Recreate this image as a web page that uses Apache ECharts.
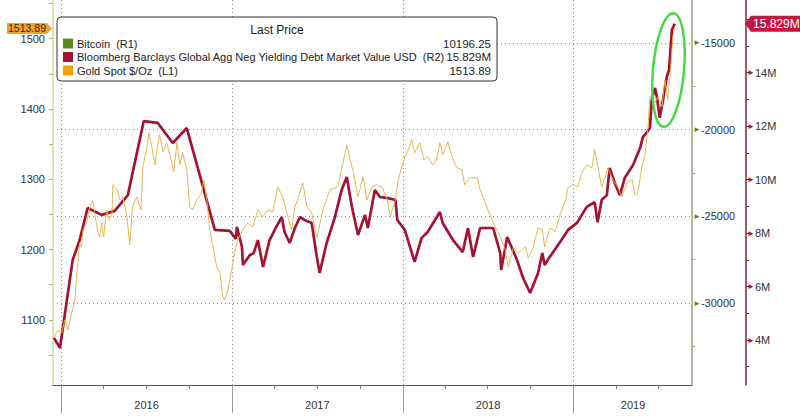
<!DOCTYPE html>
<html><head><meta charset="utf-8">
<script src="https://cdn.jsdelivr.net/npm/echarts@6/dist/echarts.min.js"></script>
<style>html,body{margin:0;padding:0;background:#fff}#c{width:800px;height:417px}</style>
</head><body><div id="c"></div>
<script>
// ---------- DATA ----------
const goldDates = ['2015-12-17','2015-12-26','2016-01-03','2016-01-09','2016-01-16','2016-01-24','2016-01-31','2016-02-04','2016-02-10','2016-02-14','2016-02-17','2016-02-25','2016-03-03','2016-03-09','2016-03-13','2016-03-20','2016-03-24','2016-03-28','2016-04-01','2016-04-08','2016-04-12','2016-04-19','2016-04-21','2016-04-30','2016-05-06','2016-05-12','2016-05-21','2016-05-27','2016-06-02','2016-06-11','2016-06-20','2016-06-24','2016-07-03','2016-07-07','2016-07-13','2016-07-20','2016-07-24','2016-07-30','2016-08-06','2016-08-14','2016-08-21','2016-08-29','2016-09-05','2016-09-11','2016-09-17','2016-09-26','2016-10-02','2016-10-09','2016-10-17','2016-10-28','2016-11-01','2016-11-08','2016-11-14','2016-11-21','2016-11-29','2016-12-06','2016-12-12','2016-12-16','2016-12-23','2016-12-31','2017-01-06','2017-01-13','2017-01-24','2017-02-03','2017-02-14','2017-02-25','2017-03-08','2017-03-18','2017-03-29','2017-04-08','2017-04-19','2017-04-28','2017-05-08','2017-05-15','2017-05-21','2017-06-01','2017-06-10','2017-06-20','2017-07-01','2017-07-14','2017-07-29','2017-08-15','2017-08-26','2017-09-03','2017-09-10','2017-09-16','2017-09-27','2017-10-08','2017-10-16','2017-10-27','2017-11-07','2017-11-18','2017-11-29','2017-12-05','2017-12-16','2017-12-22','2017-12-31','2018-01-05','2018-01-11','2018-01-20','2018-01-26','2018-02-06','2018-02-15','2018-02-23','2018-03-06','2018-03-14','2018-03-21','2018-03-27','2018-04-07','2018-04-16','2018-04-26','2018-05-07','2018-05-13','2018-05-24','2018-06-09','2018-06-15','2018-06-21','2018-07-02','2018-07-13','2018-07-28','2018-08-08','2018-08-14','2018-08-25','2018-09-05','2018-09-20','2018-09-26','2018-10-07','2018-10-17','2018-10-26','2018-10-31','2018-11-11','2018-11-22','2018-12-03','2018-12-15','2018-12-20','2018-12-31','2019-01-10','2019-01-18','2019-01-29','2019-02-09','2019-02-15','2019-02-21','2019-03-02','2019-03-09','2019-03-15','2019-03-26','2019-04-06','2019-04-14','2019-04-25','2019-05-06','2019-05-12','2019-05-18','2019-05-27','2019-06-02','2019-06-09','2019-06-13','2019-06-24','2019-06-30','2019-07-09','2019-07-15','2019-07-21','2019-07-26','2019-08-01','2019-08-05'];
const goldValues = [1075.6,1085.6,1081.3,1099.9,1085.6,1109.8,1128.3,1166.8,1209.5,1203.8,1228.1,1238.0,1260.8,1270.8,1252.3,1223.8,1218.1,1238.0,1218.1,1256.6,1242.3,1249.4,1292.2,1285.0,1270.8,1275.1,1246.6,1206.7,1260.8,1275.1,1256.6,1317.8,1346.3,1366.2,1346.3,1320.7,1342.0,1363.4,1339.2,1352.0,1334.9,1310.7,1352.0,1320.7,1337.7,1313.5,1260.8,1256.6,1270.8,1280.8,1299.3,1270.8,1228.1,1203.8,1175.4,1166.8,1132.6,1128.3,1142.6,1171.1,1195.3,1213.8,1228.1,1238.0,1232.3,1256.6,1246.6,1256.6,1253.7,1289.3,1275.1,1252.3,1228.1,1260.8,1270.8,1295.0,1260.8,1252.3,1216.7,1256.6,1285.0,1289.3,1323.5,1349.1,1327.8,1313.5,1275.1,1303.6,1270.8,1289.3,1292.2,1287.9,1270.8,1246.6,1270.8,1299.3,1320.7,1332.1,1339.2,1356.3,1337.7,1352.0,1327.8,1332.1,1320.7,1327.8,1352.0,1334.9,1353.4,1332.1,1316.4,1313.5,1292.2,1302.1,1302.1,1285.0,1275.1,1256.6,1238.0,1218.1,1199.6,1175.4,1202.4,1195.3,1203.8,1188.2,1203.8,1230.9,1228.1,1203.8,1230.9,1225.2,1249.4,1270.8,1287.9,1292.2,1289.3,1309.3,1320.7,1316.4,1342.0,1320.7,1289.3,1302.1,1316.4,1299.3,1287.9,1275.1,1295.0,1299.3,1277.9,1280.8,1317.8,1332.1,1375.0,1417.5,1409.0,1417.5,1403.3,1441.7,1413.2,1446.0,1503.0,1513.89];

const debtDates = ['2015-12-17','2015-12-30','2016-01-26','2016-02-10','2016-02-27','2016-03-28','2016-04-25','2016-05-23','2016-06-26','2016-07-26','2016-08-27','2016-09-26','2016-11-25','2016-12-27','2017-01-09','2017-01-11','2017-01-22','2017-01-24','2017-02-08','2017-02-16','2017-02-25','2017-03-08','2017-03-22','2017-04-04','2017-04-17','2017-04-23','2017-05-04','2017-05-15','2017-05-26','2017-06-05','2017-06-20','2017-07-01','2017-07-07','2017-07-22','2017-08-08','2017-08-23','2017-09-03','2017-09-14','2017-09-27','2017-10-12','2017-10-18','2017-11-02','2017-11-13','2017-11-30','2017-12-16','2017-12-20','2018-01-05','2018-01-26','2018-02-10','2018-02-23','2018-03-21','2018-03-27','2018-04-18','2018-05-09','2018-05-20','2018-05-31','2018-06-15','2018-07-13','2018-07-28','2018-07-30','2018-08-12','2018-09-02','2018-09-15','2018-09-30','2018-10-17','2018-10-26','2018-10-31','2018-11-11','2018-12-03','2018-12-20','2019-01-08','2019-01-29','2019-02-15','2019-02-21','2019-03-02','2019-03-13','2019-03-19','2019-03-30','2019-04-10','2019-04-20','2019-05-08','2019-05-23','2019-05-29','2019-06-07','2019-06-13','2019-06-17','2019-06-24','2019-06-28','2019-07-04','2019-07-11','2019-07-19','2019-07-24','2019-07-30','2019-08-02','2019-08-05'];
const debtValues = [4.08,3.70,6.99,7.74,8.94,8.68,8.83,9.42,12.19,12.12,11.37,11.93,8.12,8.08,7.78,8.23,7.48,6.81,7.18,7.25,7.74,6.73,7.74,8.19,8.60,8.04,7.63,8.19,8.60,8.49,8.38,7.11,6.51,7.63,8.56,9.61,10.10,8.98,7.93,8.68,8.19,9.61,9.35,9.31,9.24,8.49,8.12,6.92,7.82,8.04,8.79,8.38,7.74,7.29,8.19,7.11,8.19,8.19,7.25,6.62,7.85,6.99,6.32,5.76,6.51,7.25,6.81,7.11,7.67,8.12,8.38,8.98,9.16,8.41,9.24,9.42,10.44,9.87,9.42,10.06,10.55,11.18,11.59,11.78,11.93,12.98,13.43,13.09,12.31,12.98,13.84,14.10,15.60,15.71,15.829];

const legendNames = ['Bitcoin  (R1)', 'Bloomberg Barclays Global Agg Neg Yielding Debt Market Value USD  (R2)', 'Gold Spot $/Oz  (L1)'];
const legendValues = ['10196.25', '15.829M', '1513.89'];
const legendTitle = 'Last Price';

const goldTickLabels = [1100, 1200, 1300, 1400, 1500];
const goldMinorTicks = [1050, 1100, 1150, 1200, 1250, 1300, 1350, 1400, 1450, 1500, 1550];
const btcTickLabels = [-30000, -25000, -20000, -15000];
const btcMinorTicks = [-32500, -27500, -22500, -17500];
const debtTickLabels = [4, 6, 8, 10, 12, 14];
const debtMinorTicks = [3, 4, 5, 6, 7, 8, 9, 10, 11, 12, 13, 14, 15, 16];
const yearStarts = ['2016-01-01', '2017-01-01', '2018-01-01', '2019-01-01'];
const yearLabelAt = ['2016-07-02', '2017-07-02', '2018-07-02', '2019-05-08'];
const quarterTicks = ['2016-04-01','2016-07-01','2016-10-01','2017-04-01','2017-07-01','2017-10-01','2018-04-01','2018-07-01','2018-10-01','2019-04-01','2019-07-01'];

// ---------- STYLE ----------
const FONT = 'Liberation Sans';
const GOLD = '#e6b040';
const DEBT = '#a41333';
const BTC = '#5b8a1e';
const X_MIN = '2015-12-15', X_MAX = '2019-09-11';
const T = s => Date.parse(s);

const chart = echarts.init(document.getElementById('c'), null, {renderer: 'svg'});
const dotted = {type: [1, 3], color: '#8a8a8a', width: 1};

const option = {
  animation: false,
  backgroundColor: '#fff',
  textStyle: {fontFamily: FONT},
  grid: {left: 53, right: 108, top: 0, bottom: 32, containLabel: false},
  xAxis: [
    {type: 'value', min: T(X_MIN), max: T(X_MAX), position: 'bottom',
      axisLine: {show: true, lineStyle: {color: '#555', width: 1}},
      axisTick: {show: true, customValues: yearStarts.map(T), length: 28, lineStyle: {color: '#999'}},
      axisLabel: {customValues: yearLabelAt.map(T), formatter: v => String(new Date(v).getUTCFullYear()), margin: 14, color: '#333', fontSize: 11},
      splitLine: {show: true, lineStyle: dotted}},
    {type: 'value', min: T(X_MIN), max: T(X_MAX), position: 'bottom',
      axisLine: {show: false},
      axisTick: {show: true, customValues: quarterTicks.map(T), length: 4, lineStyle: {color: '#777'}},
      axisLabel: {show: false}, splitLine: {show: false}}
  ],
  yAxis: [
    {type: 'value', position: 'left', min: 1007.4, max: 1555,
      axisLine: {show: true, lineStyle: {color: '#d6d6a6', width: 1.5}},
      axisTick: {show: true, customValues: goldMinorTicks, length: 4, lineStyle: {color: '#a8b860'}},
      axisLabel: {customValues: goldTickLabels, formatter: v => String(v), color: '#333', fontSize: 11, lineHeight: 11, margin: 8},
      splitLine: {show: false}},
    {type: 'value', position: 'right', offset: 0, min: -34729, max: -12520,
      axisLine: {show: true, lineStyle: {color: '#a0a084', width: 1.5}},
      axisTick: {show: false, customValues: btcTickLabels},
      axisLabel: {customValues: btcTickLabels, margin: 1, color: '#333', fontSize: 11,
        formatter: v => '{t|\u25BA}' + v, rich: {t: {color: '#6e7d2c', fontSize: 8}}},
      splitLine: {show: true, lineStyle: dotted}},
    {type: 'value', position: 'right', offset: 0, min: -34729, max: -12520,
      axisLine: {show: false},
      axisTick: {show: true, customValues: btcMinorTicks, length: 3, lineStyle: {color: '#a0a084'}},
      axisLabel: {show: false}, splitLine: {show: false}},
    {type: 'value', position: 'right', offset: 54, min: 2.317, max: 16.72,
      axisLine: {show: true, lineStyle: {color: '#7a2a3a', width: 1.5}},
      axisTick: {show: true, customValues: debtMinorTicks, length: 3, lineStyle: {color: '#7a2a3a'}},
      axisLabel: {customValues: debtTickLabels, margin: 1, color: '#333', fontSize: 11,
        formatter: v => '{t|\u25BA}' + v + 'M', rich: {t: {color: '#b01030', fontSize: 8}}},
      splitLine: {show: false}}
  ],
  series: [
    {name: legendNames[1], type: 'line', xAxisIndex: 0, yAxisIndex: 3, showSymbol: false, z: 2,
      lineStyle: {color: DEBT, width: 2.7}, itemStyle: {color: DEBT},
      data: debtDates.map((d, i) => [T(d), debtValues[i]])},
    {name: legendNames[2], type: 'line', xAxisIndex: 0, yAxisIndex: 0, showSymbol: false, z: 3,
      lineStyle: {color: GOLD, width: 1, opacity: 0.9}, itemStyle: {color: GOLD},
      data: goldDates.map((d, i) => [T(d), goldValues[i]])}
  ]
};
chart.setOption(option);

const gy = chart.convertToPixel({yAxisIndex: 0}, goldValues[goldValues.length - 1]);
const dy = chart.convertToPixel({yAxisIndex: 3}, debtValues[debtValues.length - 1]);

const legendColors = [BTC, DEBT, '#f5a000'];
const rowY = [43.5, 57, 70.5];
const els = [
  {type: 'rect', z: 100, shape: {x: 57, y: 17, width: 440, height: 64, r: 4}, style: {fill: '#fff', stroke: '#333', lineWidth: 1}},
  {type: 'text', z: 101, x: 277, y: 30, style: {text: legendTitle, fill: '#222', font: '12px ' + FONT, textAlign: 'center', textVerticalAlign: 'middle'}}
];
legendNames.forEach((n, i) => {
  els.push({type: 'rect', z: 101, shape: {x: 63, y: rowY[i] - 5, width: 10, height: 10}, style: {fill: legendColors[i]}});
  els.push({type: 'text', z: 101, x: 77, y: rowY[i], style: {text: n, fill: '#222', font: '11px ' + FONT, textVerticalAlign: 'middle'}});
  els.push({type: 'text', z: 101, x: 491, y: rowY[i], style: {text: legendValues[i], fill: '#222', font: '11.5px ' + FONT, textAlign: 'right', textVerticalAlign: 'middle'}});
});
els.push({type: 'polygon', z: 102, shape: {points: [[7, gy - 6], [47, gy - 6], [52, gy - 0.5], [47, gy + 5], [7, gy + 5]]}, style: {fill: '#f2a230'}});
els.push({type: 'text', z: 103, x: 27, y: gy - 1, style: {text: legendValues[2], fill: '#3a2600', font: '10.5px ' + FONT, lineHeight: 10, textAlign: 'center', textVerticalAlign: 'middle'}});
els.push({type: 'polygon', z: 102, shape: {points: [[745, dy], [751, dy - 8], [800, dy - 8], [800, dy + 8], [751, dy + 8]]}, style: {fill: '#c3173f'}});
els.push({type: 'text', z: 103, x: 753, y: dy, style: {text: legendValues[1], fill: '#fff', font: '12px ' + FONT, textVerticalAlign: 'middle'}});
els.push({type: 'ellipse', z: 104, x: 668.5, y: 70, rotation: -0.087, shape: {cx: 0, cy: 0, rx: 15.5, ry: 57}, style: {fill: 'none', stroke: '#46d946', lineWidth: 2.5}});

chart.setOption({graphic: {elements: els}});
</script></body></html>
